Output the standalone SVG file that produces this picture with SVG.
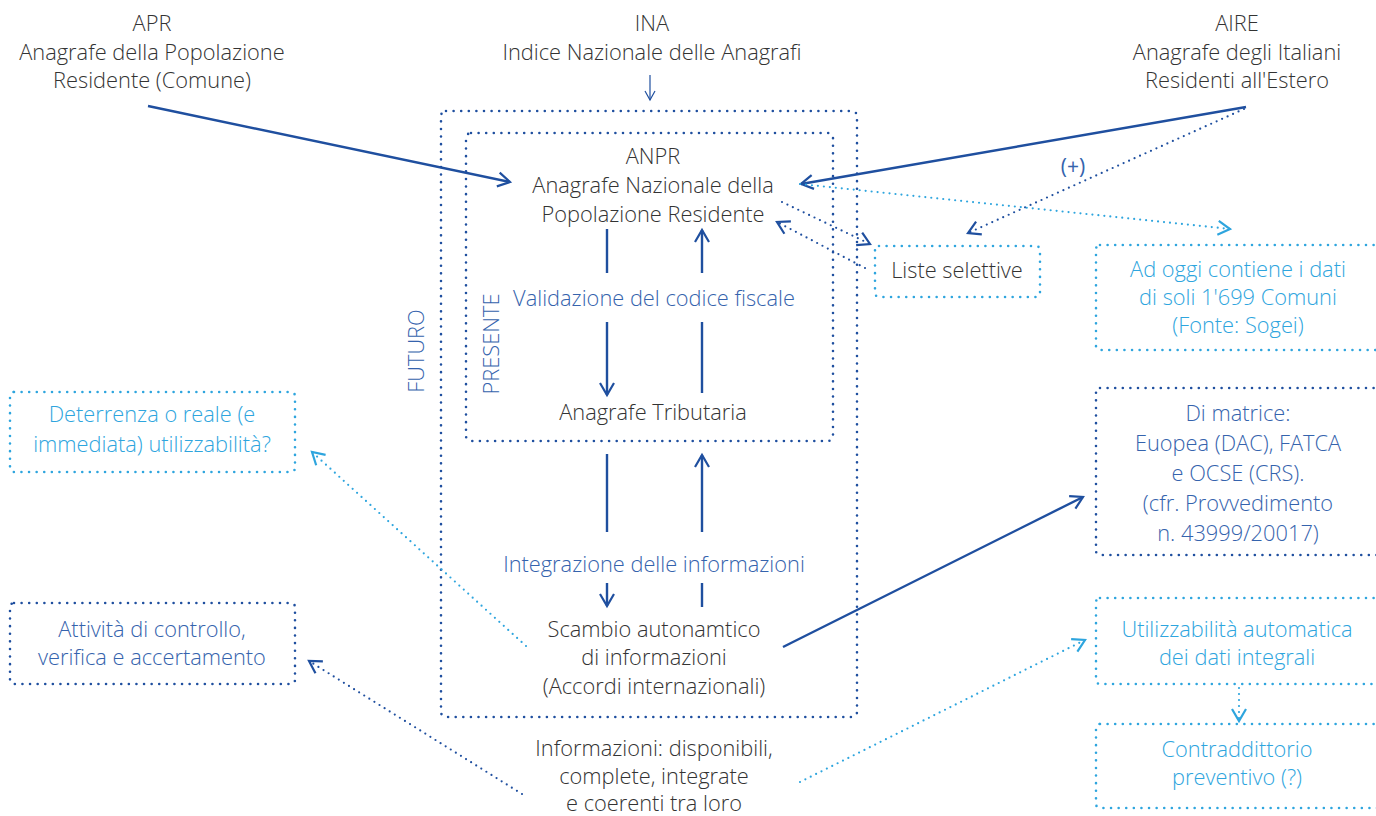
<svg xmlns="http://www.w3.org/2000/svg" width="1376" height="816" viewBox="0 0 1376 816">
<style>
text{font-family:"Open Sans","Liberation Sans",sans-serif;font-size:21.8px;font-weight:300;text-anchor:middle}
.dk{fill:#333333}
.bl{fill:#3563ad}
.lb{fill:#2ea5de}
.sm{font-size:21px;font-weight:400}
.box{fill:none;stroke-width:2.6;stroke-linecap:round;stroke-dasharray:0 7.6}
.bd{stroke:#1f4f9f}
.bb{stroke:#2ea5de}
.sol{fill:none;stroke:#1f4f9f;stroke-width:2.4}
.dot{fill:none;stroke-width:2.2;stroke-linecap:round;stroke-dasharray:0 6}
</style>
<defs>
<marker id="ad" markerUnits="userSpaceOnUse" markerWidth="20" markerHeight="20" refX="14" refY="10" orient="auto" viewBox="0 0 20 20">
<path d="M2,3 L14,10 L2,17" fill="none" stroke="#1f4f9f" stroke-width="2.2"/>
</marker>
<marker id="al" markerUnits="userSpaceOnUse" markerWidth="20" markerHeight="20" refX="14" refY="10" orient="auto" viewBox="0 0 20 20">
<path d="M2,3 L14,10 L2,17" fill="none" stroke="#2ea5de" stroke-width="2.2"/>
</marker>
<marker id="as" markerUnits="userSpaceOnUse" markerWidth="20" markerHeight="20" refX="12" refY="10" orient="auto" viewBox="0 0 20 20">
<path d="M3,5 L12,10 L3,15" fill="none" stroke="#1f4f9f" stroke-width="1.2"/>
</marker>
</defs>

<g id="apr">
<text class="dk" x="152" y="31">APR</text>
<text class="dk" x="152" y="60">Anagrafe della Popolazione</text>
<text class="dk" x="152" y="88">Residente (Comune)</text>
</g>
<g id="ina">
<text class="dk" x="652" y="31">INA</text>
<text class="dk" x="652" y="60">Indice Nazionale delle Anagrafi</text>
</g>
<g id="aire">
<text class="dk" x="1237" y="31">AIRE</text>
<text class="dk" x="1237" y="60">Anagrafe degli Italiani</text>
<text class="dk" x="1237" y="88">Residenti all'Estero</text>
</g>

<g id="futuro">
<rect class="box bd" x="441" y="111" width="416" height="606" rx="5"/>
<text class="bl" transform="translate(424,351) rotate(-90)">FUTURO</text>
</g>
<g id="presente">
<rect class="box bd" x="466" y="133" width="367" height="308" rx="5"/>
<text class="bl" transform="translate(499,344) rotate(-90)">PRESENTE</text>
</g>

<g id="anpr">
<text class="dk" x="653" y="164">ANPR</text>
<text class="dk" x="653" y="193">Anagrafe Nazionale della</text>
<text class="dk" x="653" y="222">Popolazione Residente</text>
</g>
<g id="validazione">
<text class="bl" x="654" y="306">Validazione del codice fiscale</text>
</g>
<g id="tributaria">
<text class="dk" x="653" y="420">Anagrafe Tributaria</text>
</g>
<g id="integrazione">
<text class="bl" x="654" y="572">Integrazione delle informazioni</text>
</g>
<g id="scambio">
<text class="dk" x="654" y="637">Scambio autonamtico</text>
<text class="dk" x="654" y="665">di informazioni</text>
<text class="dk" x="654" y="694">(Accordi internazionali)</text>
</g>
<g id="informazioni">
<text class="dk" x="654" y="756">Informazioni: disponibili,</text>
<text class="dk" x="654" y="784">complete, integrate</text>
<text class="dk" x="654" y="811">e coerenti tra loro</text>
</g>

<g id="liste">
<rect class="box bb" x="875" y="246" width="165" height="51" rx="4"/>
<text class="dk" x="957" y="278">Liste selettive</text>
</g>
<g id="adoggi">
<rect class="box bb" x="1096" y="245" width="300" height="105" rx="4"/>
<text class="lb" x="1238" y="277">Ad oggi contiene i dati</text>
<text class="lb" x="1238" y="305">di soli 1'699 Comuni</text>
<text class="lb" x="1238" y="333">(Fonte: Sogei)</text>
</g>
<g id="matrice">
<rect class="box bd" x="1096" y="388" width="300" height="167" rx="4"/>
<text class="bl" x="1238" y="421">Di matrice:</text>
<text class="bl" x="1238" y="451">Euopea (DAC), FATCA</text>
<text class="bl" x="1238" y="481">e OCSE (CRS).</text>
<text class="bl" x="1238" y="511">(cfr. Provvedimento</text>
<text class="bl" x="1238" y="541">n. 43999/20017)</text>
</g>
<g id="utilizzabilita">
<rect class="box bb" x="1096" y="598" width="300" height="86" rx="4"/>
<text class="lb" x="1237" y="637">Utilizzabilità automatica</text>
<text class="lb" x="1237" y="665">dei dati integrali</text>
</g>
<g id="contraddittorio">
<rect class="box bb" x="1096" y="724" width="300" height="84" rx="4"/>
<text class="lb" x="1237" y="757">Contraddittorio</text>
<text class="lb" x="1237" y="785">preventivo (?)</text>
</g>
<g id="deterrenza">
<rect class="box bb" x="10" y="392" width="285" height="80" rx="4"/>
<text class="lb" x="152" y="422">Deterrenza o reale (e</text>
<text class="lb" x="152" y="452">immediata) utilizzabilità?</text>
</g>
<g id="attivita">
<rect class="box bd" x="10" y="603" width="285" height="81" rx="4"/>
<text class="bl" x="152" y="637">Attività di controllo,</text>
<text class="bl" x="152" y="665">verifica e accertamento</text>
</g>

<g id="connectors">
<line x1="650" y1="75" x2="650" y2="100" stroke="#1f4f9f" stroke-width="1.2" marker-end="url(#as)"/>
<line class="sol" x1="148" y1="106" x2="510" y2="182" marker-end="url(#ad)"/>
<line class="sol" x1="1246" y1="107" x2="801" y2="184" marker-end="url(#ad)"/>
<line class="dot" stroke="#1f4f9f" x1="1244" y1="109" x2="968" y2="233" marker-end="url(#ad)"/>
<text class="bl sm" x="1073" y="174">(+)</text>
<line class="dot" stroke="#2ea5de" x1="800" y1="184" x2="1230" y2="229" marker-end="url(#al)"/>
<line class="dot" stroke="#1f4f9f" x1="782" y1="202" x2="870" y2="244" marker-end="url(#ad)"/>
<line class="dot" stroke="#1f4f9f" x1="865" y1="268" x2="777" y2="222" marker-end="url(#ad)"/>
<line class="sol" x1="607" y1="229" x2="607" y2="273"/>
<line class="sol" x1="702" y1="273" x2="702" y2="230" marker-end="url(#ad)"/>
<line class="sol" x1="607" y1="322" x2="607" y2="395" marker-end="url(#ad)"/>
<line class="sol" x1="702" y1="322" x2="702" y2="393"/>
<line class="sol" x1="607" y1="454" x2="607" y2="532"/>
<line class="sol" x1="702" y1="532" x2="702" y2="455" marker-end="url(#ad)"/>
<line class="sol" x1="607" y1="583" x2="607" y2="606" marker-end="url(#ad)"/>
<line class="sol" x1="702" y1="583" x2="702" y2="607"/>
<line class="sol" x1="783" y1="647" x2="1083" y2="497" marker-end="url(#ad)"/>
<line class="dot" stroke="#2ea5de" x1="526" y1="646" x2="312" y2="452" marker-end="url(#al)"/>
<line class="dot" stroke="#1f4f9f" x1="522" y1="794" x2="309" y2="661" marker-end="url(#ad)"/>
<line class="dot" stroke="#2ea5de" x1="800" y1="782" x2="1085" y2="640" marker-end="url(#al)"/>
<line class="dot" stroke="#2ea5de" x1="1239" y1="688" x2="1239" y2="721" marker-end="url(#al)"/>
</g>
</svg>
